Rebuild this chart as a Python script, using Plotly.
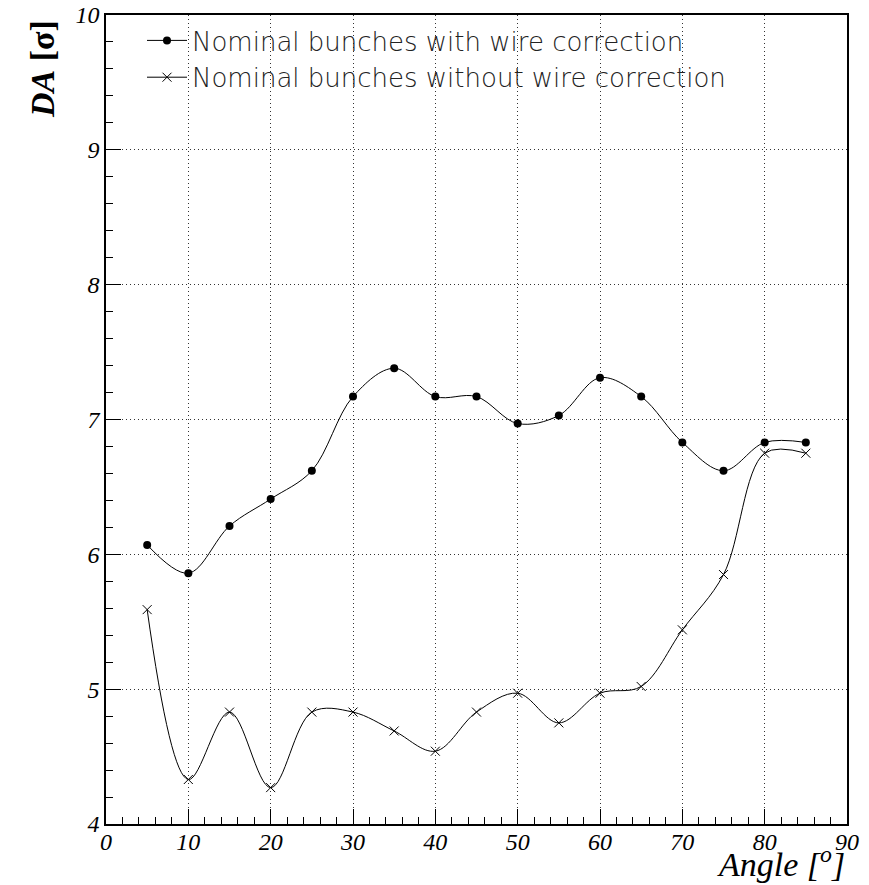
import plotly.graph_objects as go

# Crossing angle scan: dynamic aperture vs. angle
angle = [5, 10, 15, 20, 25, 30, 35, 40, 45, 50, 55, 60, 65, 70, 75, 80, 85]
da_with_wire = [6.07, 5.86, 6.21, 6.41, 6.62, 7.17, 7.38, 7.17, 7.17, 6.97,
                7.03, 7.31, 7.17, 6.83, 6.62, 6.83, 6.83]
da_without_wire = [5.59, 4.33, 4.83, 4.27, 4.83, 4.83, 4.69, 4.54, 4.83, 4.97,
                   4.75, 4.97, 5.02, 5.44, 5.85, 6.75, 6.75]

x_ticks = list(range(0, 91, 10))
y_ticks = list(range(4, 11))

W, H = 869, 885
M = dict(l=106, r=22, t=15, b=61, autoexpand=False)

fig = go.Figure()
fig.add_trace(go.Scatter(
    x=angle, y=da_with_wire, mode="lines+markers",
    name="Nominal bunches with wire correction",
    line=dict(color="black", width=1, shape="spline", smoothing=1.0),
    marker=dict(symbol="circle", size=8, color="black"),
))
fig.add_trace(go.Scatter(
    x=angle, y=da_without_wire, mode="lines+markers",
    name="Nominal bunches without wire correction",
    line=dict(color="black", width=1, shape="spline", smoothing=1.0),
    marker=dict(symbol="x-thin", size=9, color="black",
                line=dict(color="black", width=1)),
))

tick_font = dict(family="Liberation Serif", size=24, color="black", style="italic")
grid = dict(showgrid=True, gridcolor="#333", griddash="1px,3px", gridwidth=1)

fig.update_xaxes(
    range=[0, 90], tickvals=x_ticks, ticktext=[str(v) for v in x_ticks],
    ticks="inside", ticklen=15, tickwidth=1, tickcolor="black",
    minor=dict(dtick=2, ticks="inside", ticklen=7, tickcolor="black", tickwidth=1),
    showline=True, linecolor="black", linewidth=1.5, mirror=True,
    zeroline=False, tickfont=tick_font, automargin=False,
    ticklabelstandoff=-5, **grid,
)
fig.update_yaxes(
    range=[4, 10], tickvals=y_ticks, ticktext=[str(v) for v in y_ticks],
    ticks="inside", ticklen=15, tickwidth=1, tickcolor="black",
    minor=dict(dtick=0.2, ticks="inside", ticklen=7, tickcolor="black", tickwidth=1),
    showline=True, linecolor="black", linewidth=1.5, mirror=True,
    zeroline=False, tickfont=tick_font, automargin=False, **grid,
)

pw = W - M["l"] - M["r"]
ph = H - M["t"] - M["b"]

fig.add_annotation(
    text="<b><i>DA</i> [σ]</b>", textangle=-90,
    xref="paper", yref="paper", x=(42 - M["l"]) / pw, y=1 - (18 - M["t"]) / ph,
    xanchor="center", yanchor="top", showarrow=False,
    font=dict(family="Liberation Serif", size=34, color="black"),
)
fig.add_annotation(
    text="<i>Angle [<sup>o</sup>]</i>",
    xref="paper", yref="paper", x=1, y=-(862 - (H - M["b"])) / ph,
    xanchor="right", yanchor="middle", showarrow=False,
    font=dict(family="Liberation Serif", size=34, color="black"),
)

fig.update_layout(
    width=W, height=H, margin=M,
    paper_bgcolor="white", plot_bgcolor="white",
    showlegend=True,
    legend=dict(
        x=(142 - M["l"]) / pw, y=1 - (17 - M["t"]) / ph,
        xanchor="left", yanchor="top",
        bgcolor="rgba(0,0,0,0)", borderwidth=0,
        font=dict(family="DejaVu Sans", size=26, color="#222", weight=200),
        itemwidth=40, tracegroupgap=6,
    ),
)

fig.write_html("out.html")
